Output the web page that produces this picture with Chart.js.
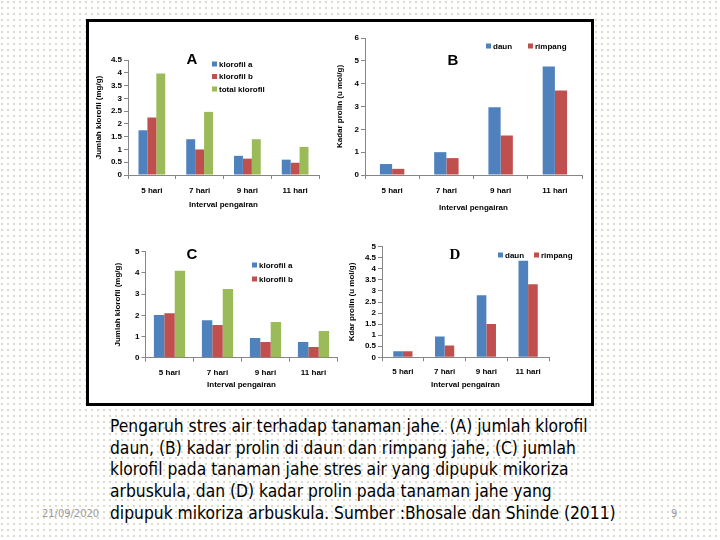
<!DOCTYPE html>
<html>
<head>
<meta charset="utf-8">
<script src="https://cdn.jsdelivr.net/npm/chart.js@4"></script>
<style>
  html, body { margin: 0; padding: 0; }
  body {
    width: 720px; height: 540px; position: relative; overflow: hidden;
    background-color: #fff;
    background-image: radial-gradient(circle at 2px 2px, #d6d1bc 0.6px, transparent 1.1px);
    background-size: 6px 6px;
  }
  #frame {
    position: absolute; left: 86px; top: 19px; width: 508px; height: 387px;
    box-sizing: border-box; border: 3px solid #000; background: #fff;
  }
  canvas { position: absolute; }
  #caption {
    position: absolute; left: 110px; top: 416px; white-space: nowrap;
    font-family: "DejaVu Sans Condensed", "DejaVu Sans", sans-serif;
    font-size: 17.3px; line-height: 21.7px; color: #000; z-index: 2;
  }
  .foot {
    position: absolute; top: 507px; color: #9a9a9a; z-index: 1;
    font-family: "DejaVu Sans Condensed", "DejaVu Sans", sans-serif; font-size: 11px;
  }
</style>
</head>
<body>
<div id="frame"></div>
<canvas id="chartA"></canvas>
<canvas id="chartB"></canvas>
<canvas id="chartC"></canvas>
<canvas id="chartD"></canvas>
<div id="caption">Pengaruh stres air terhadap tanaman jahe. (A) jumlah klorofil<br>daun, (B) kadar prolin di daun dan rimpang jahe, (C) jumlah<br>klorofil pada tanaman jahe stres air yang dipupuk mikoriza<br>arbuskula, dan (D) kadar prolin pada tanaman jahe yang<br>dipupuk mikoriza arbuskula. Sumber :Bhosale dan Shinde (2011)</div>
<div class="foot" style="left:42px">21/09/2020</div>
<div class="foot" style="left:671px">9</div>
<script>
const categories = ["5 hari", "7 hari", "9 hari", "11 hari"];

// A: jumlah klorofil daun
const aKlorofilA = [1.75, 1.4, 0.75, 0.6];
const aKlorofilB = [2.25, 1.0, 0.64, 0.48];
const aTotal = [3.97, 2.47, 1.4, 1.1];

// B: kadar prolin daun dan rimpang
const bDaun = [0.48, 1.0, 2.97, 4.75];
const bRimpang = [0.27, 0.74, 1.73, 3.7];

// C: klorofil, dipupuk mikoriza
const cKlorofilA = [2.01, 1.77, 0.93, 0.74];
const cKlorofilB = [2.1, 1.54, 0.74, 0.5];
const cTotal = [4.1, 3.24, 1.68, 1.26];

// D: kadar prolin, dipupuk mikoriza
const dDaun = [0.27, 0.94, 2.8, 4.36];
const dRimpang = [0.27, 0.53, 1.5, 3.3];

const blue = "#4F81BD", red = "#C0504D", green = "#9BBB59";
const axisGrey = "#868686";
const smallFont = { family: "'Liberation Sans', Arial, sans-serif", size: 8, weight: "bold" };

// draws the panel letter and the small legend
const panelDecor = {
  id: "panelDecor",
  afterDraw(chart, args, opts) {
    const ctx = chart.ctx;
    ctx.save();
    ctx.fillStyle = "#000";
    ctx.font = opts.letterFont;
    ctx.textAlign = "center";
    ctx.textBaseline = "middle";
    ctx.fillText(opts.letter, opts.letterX, opts.letterY);
    ctx.font = "bold 8px 'Liberation Sans', Arial, sans-serif";
    ctx.textAlign = "left";
    let x = opts.legendX, y = opts.legendY;
    chart.data.datasets.forEach((ds) => {
      if (ds.hideInLegend) return;
      ctx.fillStyle = ds.backgroundColor;
      ctx.fillRect(x, y - 2.5, 5, 5);
      ctx.fillStyle = "#000";
      ctx.fillText(ds.label, x + 7, y + 0.5);
      if (opts.horizontal) x += opts.gap; else y += opts.gap;
    });
    ctx.restore();
  },
};

function panel(id, box, area, datasets, yMax, yStep, yTitle, catPct, decor) {
  const canvas = document.getElementById(id);
  canvas.width = box.w;
  canvas.height = box.h;
  canvas.style.left = box.x + "px";
  canvas.style.top = box.y + "px";
  return new Chart(canvas, {
    type: "bar",
    data: { labels: categories, datasets },
    options: {
      responsive: false,
      animation: false,
      devicePixelRatio: 1,
      layout: { padding: { left: 0, top: area.t, right: box.w - area.r, bottom: 0 } },
      datasets: { bar: { categoryPercentage: catPct, barPercentage: 1 } },
      plugins: { legend: { display: false }, tooltip: { enabled: false }, panelDecor: decor },
      scales: {
        x: {
          grid: { offset: true, drawOnChartArea: false, tickLength: 4, color: axisGrey },
          border: { color: axisGrey },
          ticks: { font: smallFont, color: "#000", padding: area.xPad, maxRotation: 0, autoSkip: false },
          title: { display: true, text: "Interval pengairan", font: smallFont, color: "#000", padding: { top: 0, bottom: area.xTitlePad } },
          afterFit: (s) => { s.height = box.h - area.b; },
        },
        y: {
          min: 0,
          max: yMax,
          ticks: { stepSize: yStep, autoSkip: false, font: smallFont, color: "#000", padding: 2,
                   callback: (v) => String(Math.round(v * 10) / 10) },
          grid: { drawOnChartArea: false, tickLength: 4, color: axisGrey },
          border: { color: axisGrey },
          title: { display: true, text: yTitle, font: smallFont, color: "#000", padding: { top: area.yTitlePad, bottom: 0 } },
          afterFit: (s) => { s.width = area.l; },
        },
      },
    },
    plugins: [panelDecor],
  });
}

panel("chartA", { x: 90, y: 22, w: 236, h: 195 },
  { l: 38, r: 229, t: 38, b: 153, xPad: 7, xTitlePad: 7, yTitlePad: 4 },
  [
    { label: "klorofil a", data: aKlorofilA, backgroundColor: blue },
    { label: "klorofil b", data: aKlorofilB, backgroundColor: red },
    { label: "total klorofil", data: aTotal, backgroundColor: green },
  ], 4.5, 0.5, "Jumlah klorofil (mg/g)", 0.56,
  { letter: "A", letterFont: "bold 15px 'Liberation Sans', Arial, sans-serif", letterX: 102, letterY: 38,
    legendX: 122, legendY: 42, gap: 12.5, horizontal: false });

panel("chartB", { x: 330, y: 22, w: 258, h: 195 },
  { l: 35, r: 252, t: 16, b: 153, xPad: 7, xTitlePad: 4, yTitlePad: 5 },
  [
    { label: "daun", data: bDaun, backgroundColor: blue },
    { label: "rimpang", data: bRimpang, backgroundColor: red },
  ], 6, 1, "Kadar prolin (u mol/g)", 0.45,
  { letter: "B", letterFont: "bold 15px 'Liberation Sans', Arial, sans-serif", letterX: 123, letterY: 39,
    legendX: 156, legendY: 24, gap: 42, horizontal: true });

panel("chartC", { x: 106, y: 232, w: 234, h: 165 },
  { l: 39.5, r: 231.5, t: 19.7, b: 125.7, xPad: 6, xTitlePad: 7, yTitlePad: 7 },
  [
    { label: "klorofil a", data: cKlorofilA, backgroundColor: blue },
    { label: "klorofil b", data: cKlorofilB, backgroundColor: red },
    { label: "total klorofil", data: cTotal, backgroundColor: green, hideInLegend: true },
  ], 5, 1, "Jumlah klorofil (mg/g)", 0.65,
  { letter: "C", letterFont: "bold 15px 'Liberation Sans', Arial, sans-serif", letterX: 86, letterY: 23,
    legendX: 146, legendY: 33, gap: 14, horizontal: false });

panel("chartD", { x: 340, y: 232, w: 240, h: 165 },
  { l: 42, r: 209, t: 14.7, b: 125.3, xPad: 6, xTitlePad: 7, yTitlePad: 7 },
  [
    { label: "daun", data: dDaun, backgroundColor: blue },
    { label: "rimpang", data: dRimpang, backgroundColor: red },
  ], 5, 0.5, "Kdar prolin (u mol/g)", 0.46,
  { letter: "D", letterFont: "bold 15px 'Liberation Serif', 'Times New Roman', serif", letterX: 115, letterY: 23,
    legendX: 158, legendY: 23, gap: 36, horizontal: true });
</script>
</body>
</html>
